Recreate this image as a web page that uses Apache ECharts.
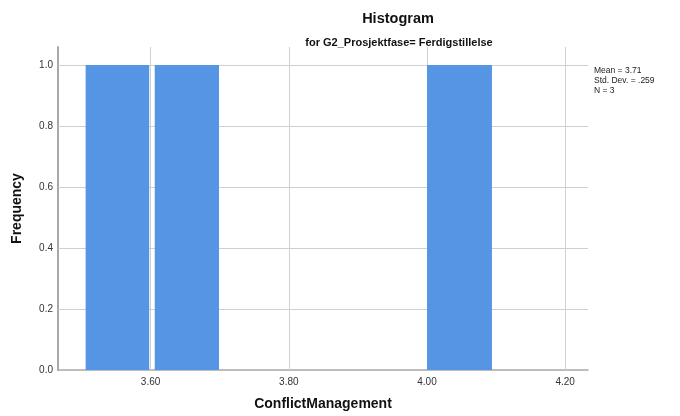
<!DOCTYPE html>
<html>
<head>
<meta charset="utf-8">
<script src="https://cdn.jsdelivr.net/npm/echarts@6/dist/echarts.min.js"></script>
<style>html,body{margin:0;padding:0;background:#fff}#c{width:680px;height:416px}</style>
</head>
<body>
<div id="c"></div>
<script>
// Histogram bins: [binStart, binEnd, frequency]
const binStarts = [3.506, 3.606, 4.000];
const binEnds   = [3.598, 3.699, 4.094];
const frequencies = [1, 1, 1];
const xTickValues = [3.6, 3.8, 4.0, 4.2];
const yTickValues = [0, 0.2, 0.4, 0.6, 0.8, 1.0];
const statsLines = ['Mean = 3.71', 'Std. Dev. = .259', 'N = 3'];
const titleText = 'Histogram';
const subtitleText = 'for G2_Prosjektfase= Ferdigstillelse';
const xAxisName = 'ConflictManagement';
const yAxisName = 'Frequency';

const FONT = '"Liberation Sans", Arial, sans-serif';
const barData = binStarts.map((s, i) => [s, binEnds[i], frequencies[i]]);

const chart = echarts.init(document.getElementById('c'), null, {renderer: 'canvas'});
chart.setOption({
  animation: false,
  backgroundColor: '#fff',
  title: [
    {text: titleText, left: 393, top: 6, textAlign: 'center',
     textStyle: {fontFamily: FONT, fontSize: 14.5, fontWeight: 'bold', color: '#111'}},
    {text: subtitleText, left: 394, top: 32, textAlign: 'center',
     textStyle: {fontFamily: FONT, fontSize: 11, fontWeight: 'bold', color: '#111'}}
  ],
  grid: {left: 58, right: 92, top: 47, bottom: 46, containLabel: false},
  xAxis: {
    type: 'value', min: 3.466, max: 4.233,
    name: xAxisName, nameLocation: 'middle', nameGap: 27,
    nameTextStyle: {fontFamily: FONT, fontSize: 14, fontWeight: 'bold', color: '#111'},
    axisLine: {show: true, onZero: false, lineStyle: {color: '#a8a8a8', width: 1.5}},
    axisTick: {show: false},
    splitLine: {show: false},
    axisLabel: {customValues: xTickValues, formatter: v => v.toFixed(2), margin: 7,
      fontFamily: FONT, fontSize: 10, color: '#333'}
  },
  yAxis: {
    type: 'value', min: 0, max: 1.059,
    name: yAxisName, nameLocation: 'middle', nameGap: 34,
    nameTextStyle: {fontFamily: FONT, fontSize: 14, fontWeight: 'bold', color: '#111'},
    axisLine: {show: true, lineStyle: {color: '#a8a8a8', width: 2}},
    axisTick: {show: false},
    splitLine: {show: false},
    axisLabel: {customValues: yTickValues, formatter: v => v.toFixed(1), margin: 5,
      fontFamily: FONT, fontSize: 10, color: '#333'}
  },
  graphic: [{
    type: 'text', left: 594, top: 66,
    style: {text: statsLines.join('\n'), font: '8.5px ' + FONT, fill: '#222', lineHeight: 10}
  }],
  series: [
    {
      type: 'line', data: [], silent: true, z: 1,
      markLine: {
        z: 1, zlevel: 0,
        silent: true, symbol: 'none', animation: false,
        label: {show: false},
        lineStyle: {color: '#d0d0d0', width: 1, type: 'solid'},
        data: xTickValues.map(v => ({xAxis: v})).concat(
              yTickValues.filter(v => v > 0).map(v => ({yAxis: v})))
      }
    },
    {
      type: 'custom', z: 10,
      data: barData,
      renderItem: function (params, api) {
        const p0 = api.coord([api.value(0), 0]);
        const p1 = api.coord([api.value(1), api.value(2)]);
        return {type: 'rect',
          shape: {x: p0[0], y: p1[1], width: p1[0] - p0[0], height: p0[1] - p1[1]},
          style: {fill: '#5595e3'}};
      }
    }
  ]
});
</script>
</body>
</html>
